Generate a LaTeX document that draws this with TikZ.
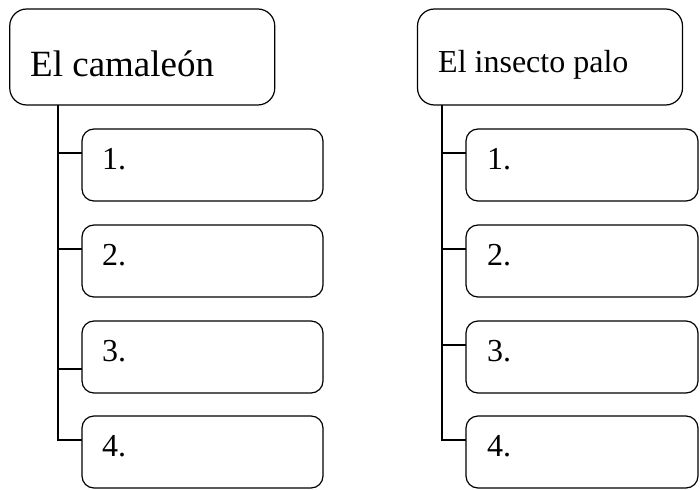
\documentclass[tikz,border=0pt]{standalone}
\usepackage{fontspec}
\setmainfont{Liberation Serif}
\usetikzlibrary{calc}
\tikzset{
  boxshape/.style={draw, line width=1.2pt, inner sep=0pt, outer sep=0pt},
  headbox/.style={boxshape, rounded corners=17pt, minimum width=265pt, minimum height=96pt},
  itembox/.style={boxshape, rounded corners=12pt, minimum height=72pt},
  conn/.style={line width=1.2pt},
  headtext/.style={anchor=base west, inner sep=0pt},
  numtext/.style={anchor=base west, inner sep=0pt, font=\fontsize{32}{36}\selectfont},
}
\begin{document}
\begin{tikzpicture}[x=1pt,y=-1pt]
\useasboundingbox (0,0) rectangle (700,489);
% left tree
\node[headbox] (LH) at (142.25,57) {};
\node[headtext, font=\fontsize{37}{40}\selectfont] (LHt) at (30,77) {El camaleón};
\foreach \i/\y in {1/165,2/261,3/357,4/452}{
  \node[itembox, minimum width=241pt] (L\i) at (202.5,\y) {};
  \node[numtext] (L\i t) at ($(L\i.north west)+(20,40)$) {\i.};
}
\coordinate (LT) at (58,0);
\coordinate (ls1) at ($(L1.north west)+(0,24)$);
\coordinate (ls2) at ($(L2.north west)+(0,24)$);
\coordinate (ls3) at ($(L3.north west)+(0,48)$);
\coordinate (ls4) at ($(L4.north west)+(0,24)$);
\draw[conn] (LH.south -| LT) -- (LT |- ls4) -- (ls4);
\foreach \k in {1,2,3}{ \draw[conn] (LT |- ls\k) -- (ls\k); }
% right tree
\node[headbox] (RH) at (550,57) {};
\node[headtext, font=\fontsize{32}{36}\selectfont] (RHt) at (438,73) {El insecto palo};
\foreach \i/\y in {1/165,2/261,3/357,4/452}{
  \node[itembox, minimum width=232pt] (R\i) at (582,\y) {};
  \node[numtext] (R\i t) at ($(R\i.north west)+(21,40)$) {\i.};
}
\coordinate (RT) at (442,0);
\foreach \k in {1,2,3,4}{ \coordinate (rs\k) at ($(R\k.north west)+(0,24)$); }
\draw[conn] (RH.south -| RT) -- (RT |- rs4) -- (rs4);
\foreach \k in {1,2,3}{ \draw[conn] (RT |- rs\k) -- (rs\k); }
\end{tikzpicture}
\end{document}
